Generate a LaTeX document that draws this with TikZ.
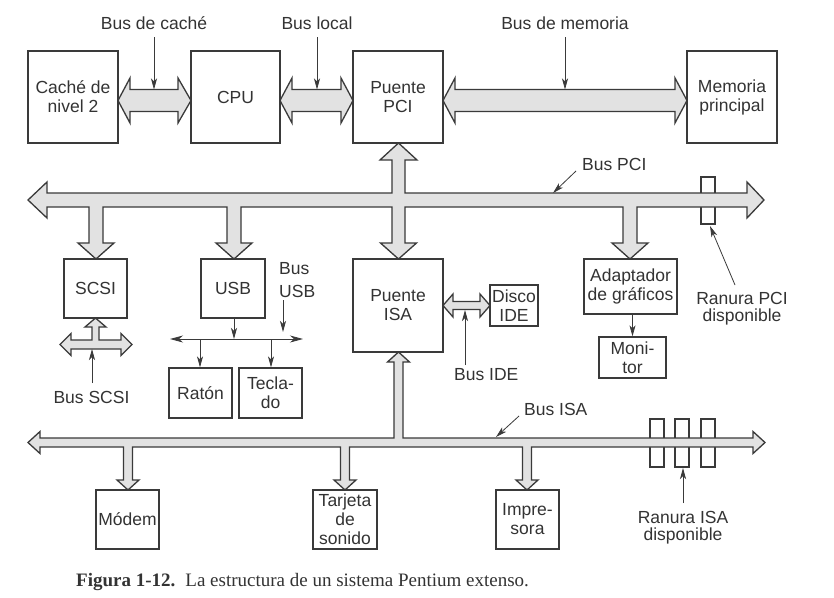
\documentclass[tikz,border=0pt]{standalone}
\usepackage{fontspec}
\setmainfont{Liberation Sans}
\newfontfamily\capfont{Liberation Serif}
\usetikzlibrary{arrows.meta}
\definecolor{ink}{HTML}{3A3A3A}
\definecolor{txt}{HTML}{333333}
\definecolor{busfill}{HTML}{E2E2E2}
\tikzset{
 box/.style={draw=ink, line width=1.3pt, fill=white, inner sep=0pt, align=center, text=txt, font=\fontsize{17.5}{19}\selectfont},
 lbl/.style={inner sep=0pt, align=center, text=txt, font=\fontsize{17.5}{17}\selectfont},
 bus/.style={draw=ink, line width=1.3pt, fill=busfill, line join=miter},
 ptr/.style={draw=ink, line width=0.8pt, -{Stealth[length=11pt,width=6pt,inset=3pt]}},
 slot/.style={draw=ink, line width=1.3pt, fill=white},
}
\begin{document}
\begin{tikzpicture}[x=1pt,y=-1pt]
\useasboundingbox[fill=white] (0,0) rectangle (834,597);
% boxes
\node[box, minimum width=90pt, minimum height=92pt] (cache) at (73,97) {Caché de\\nivel 2};
\node[box, minimum width=89pt, minimum height=92pt] (cpu) at (235.5,97) {CPU};
\node[box, minimum width=90pt, minimum height=92pt] (pci) at (398,97) {Puente\\PCI};
\node[box, minimum width=90pt, minimum height=92pt] (mem) at (732,97) {Memoria\\principal};
\node[box, minimum width=63pt, minimum height=59pt] (scsi) at (95.5,288.5) {SCSI};
\node[box, minimum width=64pt, minimum height=59pt] (usb) at (233,288.5) {USB};
\node[box, minimum width=90pt, minimum height=93pt] (isa) at (398,305.5) {Puente\\ISA};
\node[box, minimum width=48pt, minimum height=41pt] (disco) at (514,305.5) {Disco\\IDE};
\node[box, minimum width=93pt, minimum height=55pt] (adapt) at (630.5,286.5) {Adaptador\\de gráficos};
\node[box, minimum width=67pt, minimum height=41pt] (monitor) at (632.5,357.5) {Moni-\\tor};
\node[box, minimum width=63pt, minimum height=50pt] (raton) at (200.5,393) {Ratón};
\node[box, minimum width=63pt, minimum height=50pt] (teclado) at (270.5,393) {Tecla-\\do};
\node[box, minimum width=63pt, minimum height=59pt] (modem) at (127.5,519.5) {Módem};
\node[box, minimum width=64pt, minimum height=59pt] (tarjeta) at (345,519.5) {Tarjeta\\de\\sonido};
\node[box, minimum width=63pt, minimum height=59pt] (impresora) at (527.5,519.5) {Impre-\\sora};
% slots
\draw[slot] (701,177) rectangle (715,224);
\draw[slot] (650,419) rectangle (664,467);
\draw[slot] (675,419) rectangle (689,467);
\draw[slot] (701,419) rectangle (715,467);
% top buses
\draw[bus] (118,100.5) -- (130,78) -- (130,89.5) -- (178,89.5) -- (178,78) -- (191,100.5) -- (178,123) -- (178,111.5) -- (130,111.5) -- (130,123) -- cycle;
\draw[bus] (280,100.5) -- (292,78) -- (292,89.5) -- (341,89.5) -- (341,78) -- (353,100.5) -- (341,123) -- (341,111.5) -- (292,111.5) -- (292,123) -- cycle;
\draw[bus] (443,100.5) -- (455,78) -- (455,89.5) -- (675,89.5) -- (675,78) -- (687,100.5) -- (675,123) -- (675,111.5) -- (455,111.5) -- (455,123) -- cycle;
% PCI bus
\draw[bus] (28,200) -- (47,182) -- (47,193) -- (392,193) -- (392,160) -- (380,160) -- (398.5,143) -- (417,160) -- (405,160) -- (405,193) -- (747,193) -- (747,182) -- (764,200) -- (747,218) -- (747,207)
 -- (637,207) -- (637,243) -- (648,243) -- (630,259) -- (612,243) -- (623,243) -- (623,207)
 -- (405,207) -- (405,243) -- (416.5,243) -- (398.5,259) -- (380.5,243) -- (392,243) -- (392,207)
 -- (241,207) -- (241,243) -- (252,243) -- (234,259) -- (216,243) -- (227,243) -- (227,207)
 -- (103,207) -- (103,243) -- (114,243) -- (96,259) -- (78,243) -- (89,243) -- (89,207)
 -- (47,207) -- (47,218) -- cycle;
% ISA bus
\draw[bus] (28,442.5) -- (40,431.5) -- (40,438) -- (394,438) -- (394,362) -- (387.5,362) -- (398.5,352) -- (409.5,362) -- (403,362) -- (403,438) -- (753,438) -- (753,431.5) -- (765,442.5) -- (753,453.5) -- (753,447)
 -- (531.5,447) -- (531.5,480) -- (538,480) -- (527,490) -- (516,480) -- (522.5,480) -- (522.5,447)
 -- (349.5,447) -- (349.5,480) -- (356,480) -- (345,490) -- (334,480) -- (340.5,480) -- (340.5,447)
 -- (132.5,447) -- (132.5,480) -- (139,480) -- (128,490) -- (117,480) -- (123.5,480) -- (123.5,447)
 -- (40,447) -- (40,453.5) -- cycle;
% SCSI bus
\draw[bus] (60,344.5) -- (71,333.5) -- (71,340) -- (92,340) -- (92,327) -- (85,327) -- (95.5,318) -- (106,327) -- (99,327) -- (99,340) -- (121,340) -- (121,333.5) -- (132,344.5) -- (121,355.5) -- (121,349) -- (71,349) -- (71,355.5) -- cycle;
% IDE bus
\draw[bus] (443,305.5) -- (453,294) -- (453,301.5) -- (480,301.5) -- (480,294) -- (490,305.5) -- (480,317) -- (480,309.5) -- (453,309.5) -- (453,317) -- cycle;
% USB bus
\coordinate (uL) at (170,339);
\coordinate (uR) at (303,339);
\coordinate (uM) at (234,339);
\coordinate (uA) at (200,339);
\coordinate (uB) at (271,339);
\draw[ptr, {Stealth[length=13pt,width=7pt,inset=4pt]}-{Stealth[length=13pt,width=7pt,inset=4pt]}] (uL) -- (uR);
\draw[ptr] (usb.south -| uM) -- (uM);
\draw[ptr] (uA) -- (raton.north -| uA);
\draw[ptr] (uB) -- (teclado.north -| uB);
\draw[ptr] (adapt.south -| monitor.north) -- (monitor.north);
% labels
\node[lbl, anchor=base] (lcache) at (154,29) {Bus de caché};
\node[lbl, anchor=base] (llocal) at (317,29) {Bus local};
\node[lbl, anchor=base] (lmem) at (565,29) {Bus de memoria};
\node[lbl, anchor=base west] (lpci) at (582,170) {Bus PCI};
\node[lbl, anchor=base] (lrpci) at (742,321) {Ranura PCI\\disponible};
\node[lbl, anchor=base west, align=left, font=\fontsize{17.5}{23}\selectfont] (lusb) at (279,297) {Bus\\USB};
\node[lbl, anchor=base] (lscsi) at (91.5,403) {Bus SCSI};
\node[lbl, anchor=base west] (lide) at (454,380) {Bus IDE};
\node[lbl, anchor=base west] (lisa) at (524,415) {Bus ISA};
\node[lbl, anchor=base] (lrisa) at (683,540) {Ranura ISA\\disponible};
% pointer targets
\coordinate (tcache) at (154,89.5);
\coordinate (tlocal) at (317,89.5);
\coordinate (tmem) at (565,89.5);
\coordinate (tpci) at (553,193);
\coordinate (trpci) at (710,226);
\coordinate (tusb) at (283,332);
\coordinate (tscsi) at (92,349);
\coordinate (tide) at (465,310);
\coordinate (tisa) at (496,437);
\coordinate (trisa) at (683,468);
\draw[ptr] ([yshift=-8pt]lcache.base) -- (tcache);
\draw[ptr] ([yshift=-8pt]llocal.base) -- (tlocal);
\draw[ptr] ([yshift=-8pt]lmem.base) -- (tmem);
\draw[ptr] ([shift={(-6pt,-1pt)}]lpci.base west) -- (tpci);
\draw[ptr] (735,285) -- (trpci);
\draw[ptr] (283,300) -- (tusb);
\draw[ptr] (92,383) -- (tscsi);
\draw[ptr] (465,365) -- (tide);
\draw[ptr] ([shift={(-5pt,-1pt)}]lisa.base west) -- (tisa);
\draw[ptr] (683,503) -- (trisa);
% caption
\node[anchor=base west, inner sep=0pt, text=txt, font=\capfont\fontsize{19}{22}\selectfont] (caption) at (76,586) {\textbf{Figura 1-12.}\hspace{10pt}La estructura de un sistema Pentium extenso.};
\end{tikzpicture}
\end{document}
